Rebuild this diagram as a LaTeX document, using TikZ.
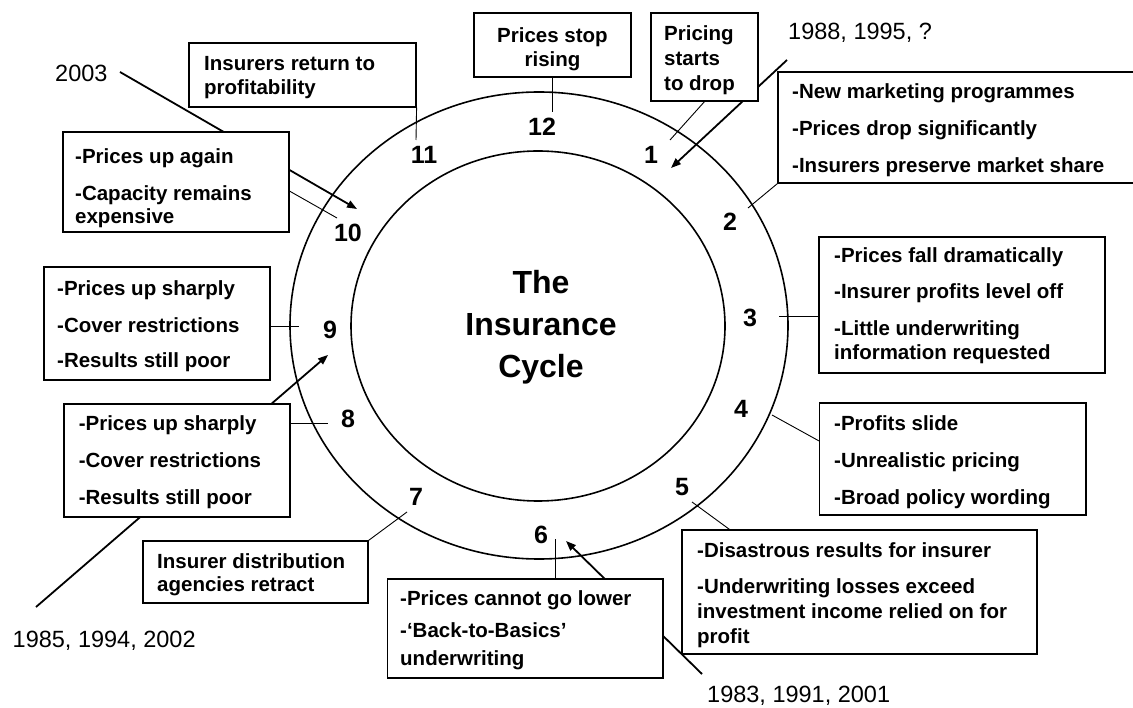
\documentclass[tikz,border=0pt]{standalone}
\usepackage{fontspec}
\setmainfont{Liberation Sans}
\usetikzlibrary{arrows.meta,calc}
\begin{document}
\begin{tikzpicture}[x=1pt,y=-1pt,
  ring/.style={line width=1.6pt},
  box/.style={draw, line width=1.2pt, fill=white, inner sep=0pt},
  txt/.style={inner sep=0pt, anchor=north west, align=left, font=\fontsize{20.5}{24}\selectfont\bfseries},
  num/.style={inner sep=0pt, font=\fontsize{25}{30}\selectfont\bfseries},
  year/.style={inner sep=0pt, anchor=base west, font=\fontsize{23.5}{28}\selectfont},
  conn/.style={line width=0.9pt},
  yarrow/.style={line width=1.8pt, -{Triangle[length=10pt,width=7.5pt]}},
]
\useasboundingbox (0,0) rectangle (1133,708);

% rings
\draw[ring] (539,325.5) ellipse [x radius=249pt, y radius=233.5pt];
\draw[ring] (538,326) ellipse [x radius=187pt, y radius=175pt];

% title
\node[inner sep=0pt, anchor=north, align=center, font=\fontsize{32}{42}\selectfont\bfseries] (title) at (541,270) {The\\Insurance\\Cycle};

% year labels
\node[year] (y2003) at (55,82) {2003};
\node[year] (y1988) at (788,40) {1988, 1995, ?};
\node[year] (y1985) at (12.5,647) {1985, 1994, 2002};
\node[year] (y1983) at (707,702) {1983, 1991, 2001};

% year arrow coordinates
\coordinate (s2003) at (120,72);  \coordinate (a10) at (357,209);
\coordinate (s1988) at (787,60);  \coordinate (a1) at (671,168);
\coordinate (s1985) at (36,607);  \coordinate (a9) at (328,355);
\coordinate (s1983) at (702,674); \coordinate (a6) at (566,541);

\draw[yarrow] (s2003) -- (a10);
\draw[yarrow] (s1988) -- (a1);
\draw[yarrow] (s1985) -- (a9);
\draw[yarrow] (s1983) -- (a6);

% boxes
\node[box, minimum width=227pt, minimum height=64pt] (b11) at (302.5,75) {};
\node[box, minimum width=157pt, minimum height=64pt] (b12) at (552.5,45) {};
\node[box, minimum width=107pt, minimum height=88pt] (b1) at (704.5,57) {};
\node[box, minimum width=362pt, minimum height=111pt] (b2) at (959,127.5) {};
\node[box, minimum width=286pt, minimum height=136pt] (b3) at (962,305) {};
\node[box, minimum width=266.5pt, minimum height=112pt] (b4) at (952.75,459) {};
\node[box, minimum width=355pt, minimum height=124pt] (b5) at (859.5,592) {};
\node[box, minimum width=275.5pt, minimum height=99pt] (b6) at (525.25,628.5) {};
\node[box, minimum width=225pt, minimum height=62pt] (b7) at (255.5,572) {};
\node[box, minimum width=226pt, minimum height=113pt] (b8) at (177,460.5) {};
\node[box, minimum width=226pt, minimum height=113pt] (b9) at (157,323.5) {};
\node[box, minimum width=226pt, minimum height=100pt] (b10) at (176,182) {};

% box texts
\node[txt] (t11) at (204,56) {Insurers return to\\profitability};
\node[txt, anchor=north, align=center] (t12) at (552.5,27) {Prices stop\\rising};
\node[txt, font=\fontsize{20.5}{25}\selectfont\bfseries] (t1) at (664,25) {Pricing\\starts\\to drop};
\node[txt] (t2) at (792,83) {-New marketing programmes\\[13pt]-Prices drop significantly\\[13pt]-Insurers preserve market share};
\node[txt] (t3) at (834,247) {-Prices fall dramatically\\[12.5pt]-Insurer profits level off\\[12.5pt]-Little underwriting\\information requested};
\node[txt] (t4) at (834,415) {-Profits slide\\[13pt]-Unrealistic pricing\\[13pt]-Broad policy wording};
\node[txt, font=\fontsize{20.5}{25}\selectfont\bfseries] (t5) at (697,542) {-Disastrous results for insurer\\[11pt]-Underwriting losses exceed\\investment income relied on for\\profit};
\node[txt] (t6) at (400,590) {-Prices cannot go lower\\[8pt]-‘Back-to-Basics’\\[4pt]underwriting};
\node[txt, font=\fontsize{20.5}{23}\selectfont\bfseries] (t7) at (157,553) {Insurer distribution\\agencies retract};
\node[txt] (t8) at (78.6,415) {-Prices up sharply\\[13pt]-Cover restrictions\\[13pt]-Results still poor};
\node[txt] (t9) at (57,280) {-Prices up sharply\\[13pt]-Cover restrictions\\[11pt]-Results still poor};
\node[txt, font=\fontsize{20.5}{23}\selectfont\bfseries] (t10) at (75,148) {-Prices up again\\[14pt]-Capacity remains\\expensive};

% numbers
\node[num] (n1) at (651,155) {1};
\node[num] (n2) at (730,222) {2};
\node[num] (n3) at (750,318) {3};
\node[num] (n4) at (741,409) {4};
\node[num] (n5) at (682,487) {5};
\node[num] (n6) at (541,535) {6};
\node[num] (n7) at (416,497) {7};
\node[num] (n8) at (348,419) {8};
\node[num] (n9) at (330,330) {9};
\node[num] (n10) at (348,233) {10};
\node[num] (n11) at (424,155) {11};
\node[num] (n12) at (542,127) {12};

% connector ends
\coordinate (c11) at (416,140);
\coordinate (c12) at (552.5,112);
\coordinate (c1) at (670,140);
\coordinate (c2) at (748,208);
\coordinate (c3) at (779,316);
\coordinate (c4) at (772,415);
\coordinate (c5) at (692,502);
\coordinate (c6) at (555,539);
\coordinate (c7) at (407,512);
\coordinate (c8) at (328,423);
\coordinate (c9) at (299,326);
\coordinate (c10) at (337,218);

\draw[conn] (b11.south east) -- (c11);
\draw[conn] (b12.south) -- (c12);
\draw[conn] (b1.south) -- (c1);
\draw[conn] (b2.south west) -- (c2);
\draw[conn] (c3 -| b3.west) -- (c3);
\draw[conn] ($(b4.north west)!0.34!(b4.south west)$) -- (c4);
\draw[conn] ($(b5.north west)!0.135!(b5.north east)$) -- (c5);
\draw[conn] (c6 |- b6.north) -- (c6);
\draw[conn] (b7.north east) -- (c7);
\draw[conn] (c8 -| b8.east) -- (c8);
\draw[conn] (c9 -| b9.east) -- (c9);
\draw[conn] ($(b10.north east)!0.59!(b10.south east)$) -- (c10);
\end{tikzpicture}
\end{document}
